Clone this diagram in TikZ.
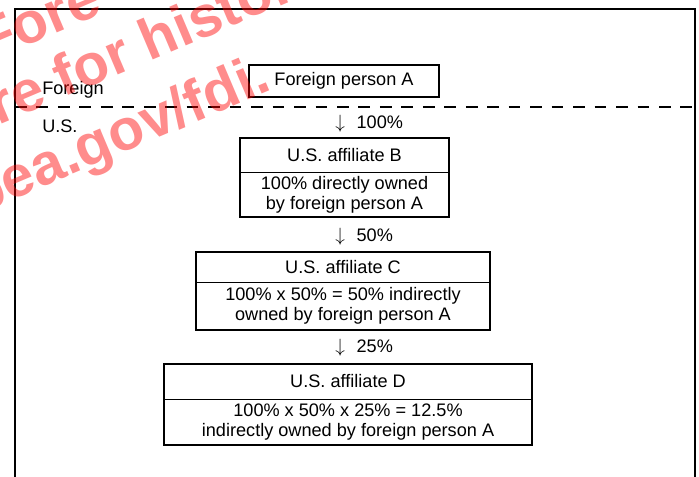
\documentclass[tikz,border=0pt]{standalone}
\usepackage{fontspec}
\setmainfont{Liberation Sans}
\usetikzlibrary{positioning}
\begin{document}
\begin{tikzpicture}[x=0.75pt,y=-0.75pt]
\tikzset{
    frame/.style={line width=1.5pt},
    border/.style={line width=1.5pt, dash pattern=on 8.8pt off 7.3pt},
    part/.style={draw, line width=0.6pt, inner sep=0pt, outer sep=0pt, align=center, font=\fontsize{13.6}{15}\selectfont},
    side/.style={anchor=base west, inner sep=0pt, font=\fontsize{13.6}{15}\selectfont},
    stamp/.style={red, opacity=0.45, inner sep=0pt, rotate=23, font=\fontsize{43.5}{50}\selectfont\bfseries},
}
\useasboundingbox (0,0) rectangle (699,477);

\coordinate (sw) at (15,477);   % frame, bottom left
\coordinate (nw) at (15,9.5);   % frame, top left
\coordinate (ne) at (694.5,9.5);% frame, top right
\coordinate (se) at (694.5,477);% frame, bottom right
\coordinate (bl) at (15,107);   % border, left
\coordinate (br) at (694.5,107);% border, right

% Draw the frame and the border first.
\draw[frame] (sw) -- (nw) -- (ne) -- (se);
\draw[border] (bl) -- (br);
\path (42,95)  node[side] (foreign) {Foreign};
\path (42,133) node[side] (us) {U.S.};

% Foreign parent.
\path (344,81) node[part, minimum width=142.5pt, minimum height=24pt] (pA) {Foreign person A};
\draw[frame] (pA.north west) rectangle (pA.south east);

% U.S. affiliates, a title part over a body part.
\path (344.5,155) node[part, minimum width=156.75pt, minimum height=25.5pt] (aB) {U.S. affiliate B};
\node[part, below=0pt of aB, minimum width=156.75pt, minimum height=33.75pt] (bB) {100\% directly owned\\by foreign person A};
\draw[frame] (aB.north west) rectangle (bB.south east);

\path (343,267) node[part, minimum width=220.5pt, minimum height=22.5pt] (aC) {U.S. affiliate C};
\node[part, below=0pt of aC, minimum width=220.5pt, minimum height=36pt] (bC) {100\% x 50\% = 50\% indirectly\\owned by foreign person A};
\draw[frame] (aC.north west) rectangle (bC.south east);

\path (348,381.5) node[part, minimum width=276pt, minimum height=26.25pt] (aD) {U.S. affiliate D};
\node[part, below=0pt of aD, minimum width=276pt, minimum height=34.5pt] (bD) {100\% x 50\% x 25\% = 12.5\%\\indirectly owned by foreign person A};
\draw[frame] (aD.north west) rectangle (bD.south east);

% Shares held, between the boxes.
\path (335,129) node[side] (sB) {$\downarrow$\hspace{0.65em}100\%};
\path (335,242) node[side] (sC) {$\downarrow$\hspace{0.65em}50\%};
\path (335,352) node[side] (sD) {$\downarrow$\hspace{0.65em}25\%};

% Stamp over everything.
\begin{scope}
\clip (0,0) rectangle (699,477);
\path (-12,62)  node[stamp, anchor=base west] (st1) {Fore};
\path (-64,152) node[stamp, anchor=base west] (st2) {here for historical};
\path (274,89)  node[stamp, anchor=base east] (st3) {bea.gov/fdi.};
\end{scope}
\end{tikzpicture}
\end{document}
